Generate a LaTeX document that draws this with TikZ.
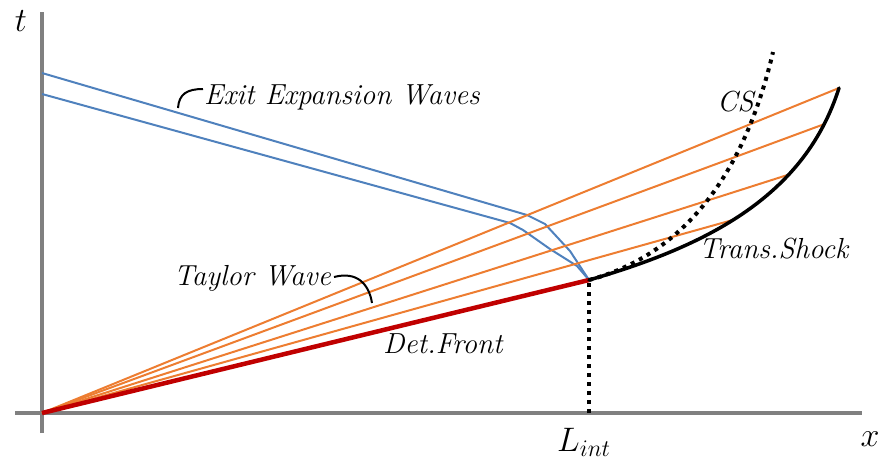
\RequirePackage{fix-cm}
\documentclass[tikz,border=0pt]{standalone}
\usepackage{amsmath}
\usepackage{fontspec}
\definecolor{axgray}{HTML}{808080}
\definecolor{wblue}{HTML}{4F81BD}
\definecolor{worange}{HTML}{ED7D31}
\definecolor{wred}{HTML}{C00000}
\newcommand{\labfont}{\fontsize{29}{31}\selectfont\itshape\addfontfeature{LetterSpace=9}}
\begin{document}
\begin{tikzpicture}[x=1pt,y=-1pt,
  axis/.style={draw=axgray,line width=4pt},
  bluew/.style={draw=wblue,line width=2pt,line join=round},
  orangew/.style={draw=worange,line width=2pt},
  detfront/.style={draw=wred,line width=4.5pt},
  shockline/.style={draw=black,line width=3.5pt,line cap=round},
  dotline/.style={draw=black,line width=4pt,dash pattern=on 4pt off 5pt},
  leader/.style={draw=black,line width=2pt},
  lab/.style={font=\labfont,inner sep=0pt},
  axlab/.style={font=\fontsize{34}{36}\selectfont,inner sep=0pt}]
\useasboundingbox (0,0) rectangle (880,467);
% axes
\coordinate (O) at (42,413);
\coordinate (ytop) at (42,12);
\coordinate (ybot) at (42,433);
\coordinate (xl) at (15,413);
\coordinate (xr) at (862,413);
\draw[axis] (ybot) -- (ytop);
\draw[axis] (xl) -- (xr);
% key points
\coordinate (I) at (589,280);
\coordinate (Lb) at (589,413);
\coordinate (s1) at (839,88);
\coordinate (c6) at (773,52);
\path (I) .. controls (710,245) and (805,195) .. (s1)
  coordinate[pos=0.45] (s4) coordinate[pos=0.68] (s3) coordinate[pos=0.88] (s2);
% blue exit expansion waves
\coordinate (b1a) at (42,73);
\coordinate (b1b) at (527,215);
\coordinate (b1c) at (545,224);
\coordinate (b1d) at (570,251);
\coordinate (b2a) at (42,94);
\coordinate (b2b) at (510,223);
\coordinate (b2c) at (523,230);
\coordinate (b2d) at (550,249);
\coordinate (b2e) at (577,266);
\draw[bluew] (b1a) -- (b1b) -- (b1c) -- (b1d) -- (I);
\draw[bluew] (b2a) -- (b2b) -- (b2c) -- (b2d) -- (b2e) -- (I);
% orange Taylor wave lines
\draw[orangew] (O) -- (s1);
\draw[orangew] (O) -- (s2);
\draw[orangew] (O) -- (s3);
\draw[orangew] (O) -- (s4);
% detonation front
\draw[detfront] (O) -- (I);
% Lint dotted
\draw[dotline] (Lb) -- (I);
% CS dotted
\draw[dotline] (I) .. controls (700,250) and (750,150) .. (c6);
% transmitted shock
\draw[shockline] (I) .. controls (710,245) and (805,195) .. (s1);
% labels
\node[lab,anchor=base west] (exit) at (204,104) {Exit Expansion Waves};
\coordinate (e0) at (178,108);
\coordinate (e1) at (203,89);
\draw[leader] (e0) .. controls (179,94) and (187,89) .. (e1);
\node[lab,anchor=base east] (taylor) at (331,285) {Taylor Wave};
\coordinate (t0) at (372,303);
\coordinate (t1) at (334,277);
\draw[leader] (t1) .. controls (357,271) and (369,284) .. (t0);
\node[lab,anchor=base west] (det) at (383,353) {Det.Front};
\node[lab,anchor=base west] (shock) at (699,258) {Trans.Shock};
\node[lab,anchor=base west] (cs) at (717,111) {CS};
\node[axlab,anchor=base] (tl) at (21,31) {$t$};
\node[axlab,anchor=base] (xlab) at (870,446) {$x$};
\node[axlab,anchor=base west] (lint) at (557,451) {$L_{int}$};
\end{tikzpicture}
\end{document}
